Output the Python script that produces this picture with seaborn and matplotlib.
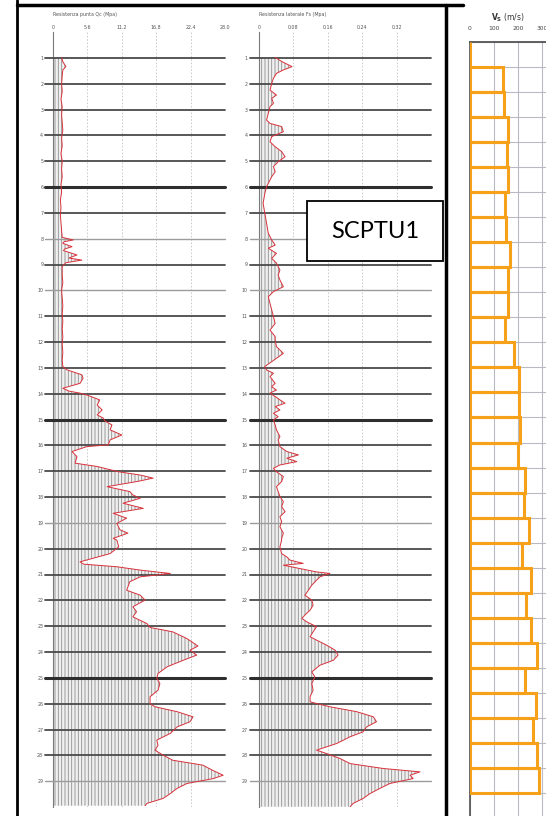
import matplotlib
matplotlib.use("Agg")
import matplotlib.pyplot as plt
from matplotlib.patches import Rectangle
from matplotlib.lines import Line2D
import seaborn as sns

# --- data read off the scanned SCPTU1 log ---
# cone resistance Qc (MPa) vs depth (m)
qc_depth = [0.98, 1.15, 1.34, 1.47, 1.7, 2.0, 2.3, 2.6, 2.9, 3.2, 3.5, 3.8, 4.1, 4.4, 4.7, 5.0,
            5.3, 5.6, 5.9, 6.2, 6.5, 6.8, 7.1, 7.4, 7.7, 7.95, 8.05, 8.12, 8.18, 8.31, 8.4, 8.46,
            8.63, 8.75, 8.83, 8.93, 9.08, 9.4, 9.7, 10.0, 10.3, 10.6, 10.9, 11.2, 11.5, 11.8,
            12.1, 12.4, 12.7, 12.95, 13.08, 13.27, 13.4, 13.6, 13.79, 13.9, 13.98, 14.05, 14.24,
            14.44, 14.63, 14.82, 14.95, 15.05, 15.21, 15.4, 15.6, 15.79, 15.98, 16.05, 16.24,
            16.44, 16.69, 16.82, 17.02, 17.15, 17.27, 17.4, 17.6, 17.79, 17.92, 18.05, 18.24,
            18.44, 18.63, 18.82, 19.02, 19.27, 19.4, 19.6, 19.67, 19.93, 20.19, 20.51, 20.6,
            20.7, 20.83, 20.96, 21.09, 21.28, 21.61, 21.8, 21.99, 22.25, 22.44, 22.64, 22.9,
            23.05, 23.22, 23.48, 23.77, 23.93, 24.12, 24.32, 24.57, 24.83, 25.02, 25.22, 25.48,
            25.73, 25.99, 26.12, 26.31, 26.51, 26.7, 26.9, 27.15, 27.41, 27.61, 27.8, 27.99,
            28.19, 28.38, 28.57, 28.77, 28.9, 29.09, 29.28, 29.48, 29.67, 29.86, 29.95]
qc_vals = [1.4, 1.6, 2.1, 1.6, 1.5, 1.4, 1.5, 1.3, 1.5, 1.4, 1.5, 1.6, 1.4, 1.5, 1.3, 1.5,
           1.4, 1.5, 1.3, 1.4, 1.2, 1.3, 1.2, 1.3, 1.4, 1.5, 3.3, 1.8, 1.6, 3.1, 1.9, 1.7,
           3.9, 2.6, 4.7, 2.1, 1.5, 1.5, 1.6, 1.4, 1.5, 1.6, 1.5, 1.6, 1.5, 1.6,
           1.5, 1.6, 1.5, 1.6, 2.3, 4.7, 4.9, 4.4, 1.6, 2.6, 4.4, 5.5, 7.6,
           7.2, 8.0, 7.2, 8.2, 8.4, 9.6, 9.3, 11.2, 9.3, 9.0, 5.5, 3.1,
           3.9, 3.6, 7.2, 10.6, 14.2, 16.3, 13.7, 8.8, 12.5, 13.0, 14.2, 11.4,
           14.7, 9.8, 12.0, 10.4, 10.9, 12.2, 9.8, 10.4, 10.7, 9.3, 4.4, 5.0,
           10.4, 14.2, 19.1, 14.2, 12.5, 12.0, 14.2, 15.0, 13.0, 13.6, 13.0, 15.3,
           15.8, 19.5, 21.8, 23.6, 22.3, 23.4, 21.2, 18.6, 17.1, 16.9, 17.4, 17.1,
           15.8, 15.8, 16.6, 20.2, 22.8, 22.3, 20.2, 19.1, 16.9, 17.1, 16.6, 17.9,
           19.5, 24.4, 25.9, 27.7, 26.1, 21.8, 20.2, 19.1, 17.9, 15.3, 15.0]

# sleeve friction Fs (MPa) vs depth (m)
fs_depth = [0.98, 1.15, 1.34, 1.47, 1.6, 1.79, 1.99, 2.25, 2.44, 2.57, 2.76, 2.89, 3.15, 3.41,
            3.54, 3.66, 3.86, 4.05, 4.25, 4.44, 4.63, 4.83, 5.02, 5.21, 5.41, 5.6, 5.99, 6.25,
            6.63, 7.02, 7.41, 7.79, 8.05, 8.25, 8.37, 8.57, 8.76, 8.95, 9.21, 9.41, 9.6, 9.86,
            10.05, 10.25, 10.5, 10.76, 11.02, 11.28, 11.54, 11.79, 11.92, 12.18, 12.44, 12.63,
            12.76, 12.95, 13.08, 13.21, 13.34, 13.6, 13.73, 13.86, 13.98, 14.11, 14.24, 14.37,
            14.5, 14.63, 14.76, 14.89, 15.02, 15.21, 15.4, 15.66, 15.79, 16.05, 16.24, 16.37,
            16.5, 16.63, 16.76, 16.89, 17.02, 17.21, 17.4, 17.6, 17.79, 17.98, 18.18, 18.37,
            18.57, 18.76, 18.95, 19.15, 19.4, 19.6, 19.67, 19.93, 20.19, 20.32, 20.44, 20.57,
            20.64, 20.77, 20.9, 20.96, 21.09, 21.22, 21.41, 21.61, 21.8, 21.99, 22.19, 22.38,
            22.57, 22.7, 22.83, 23.02, 23.22, 23.41, 23.54, 23.73, 23.93, 24.12, 24.32, 24.51,
            24.77, 24.96, 25.22, 25.48, 25.73, 25.93, 26.12, 26.31, 26.51, 26.7, 26.9, 27.09,
            27.28, 27.54, 27.8, 27.93, 28.12, 28.32, 28.51, 28.64, 28.77, 28.9, 29.09, 29.28,
            29.48, 29.67, 29.86, 29.99]
fs_vals = [0.038, 0.054, 0.077, 0.057, 0.041, 0.034, 0.030, 0.026, 0.041, 0.030, 0.034, 0.026,
           0.022, 0.018, 0.026, 0.053, 0.057, 0.030, 0.026, 0.038, 0.053, 0.061, 0.045, 0.034,
           0.038, 0.030, 0.018, 0.014, 0.010, 0.014, 0.018, 0.022, 0.030, 0.038, 0.022, 0.041,
           0.030, 0.041, 0.049, 0.045, 0.049, 0.057, 0.034, 0.022, 0.026, 0.030, 0.034, 0.038,
           0.026, 0.038, 0.038, 0.041, 0.057, 0.041, 0.030, 0.014, 0.018, 0.034, 0.026, 0.038,
           0.030, 0.041, 0.026, 0.038, 0.049, 0.061, 0.038, 0.049, 0.034, 0.045, 0.034, 0.038,
           0.041, 0.049, 0.045, 0.049, 0.065, 0.092, 0.065, 0.088, 0.049, 0.034, 0.041, 0.057,
           0.053, 0.041, 0.045, 0.049, 0.057, 0.053, 0.061, 0.049, 0.053, 0.049, 0.057, 0.053,
           0.053, 0.049, 0.053, 0.065, 0.072, 0.103, 0.057, 0.096, 0.134, 0.165, 0.142, 0.134,
           0.123, 0.115, 0.107, 0.123, 0.126, 0.119, 0.107, 0.100, 0.111, 0.134, 0.126, 0.119,
           0.134, 0.157, 0.177, 0.184, 0.173, 0.142, 0.123, 0.130, 0.123, 0.126, 0.119, 0.119,
           0.165, 0.227, 0.266, 0.273, 0.250, 0.242, 0.212, 0.181, 0.134, 0.157, 0.188, 0.212,
           0.289, 0.374, 0.351, 0.358, 0.304, 0.281, 0.258, 0.242, 0.219, 0.212]

# shear wave velocity layers (top depth in m, Vs in m/s), 1 m thick
vs_top = [0, 1, 2, 3, 4, 5, 6, 7, 8, 9, 10, 11, 12, 13, 14, 15, 16, 17, 18, 19, 20, 21, 22,
          23, 24, 25, 26, 27, 28, 29]
vs_vals = [0, 137, 142, 158, 154, 158, 146, 150, 167, 158, 158, 146, 183, 204, 204, 208, 200,
           229, 225, 246, 217, 254, 233, 254, 279, 229, 275, 262, 279, 287]

depth_marks = [1, 2, 3, 4, 5, 6, 7, 8, 9, 10, 11, 12, 13, 14, 15, 16, 17, 18, 19, 20, 21, 22,
               23, 24, 25, 26, 27, 28, 29]
qc_ticks = [0, 5.6, 11.2, 16.8, 22.4, 28.0]
qc_ticklabels = ["0", "5.6", "11.2", "16.8", "22.4", "28.0"]
fs_ticks = [0, 0.08, 0.16, 0.24, 0.32]
fs_ticklabels = ["0", "0.08", "0.16", "0.24", "0.32"]
vs_ticks = [0, 100, 200, 300, 400]
vs_ticklabels = ["0", "100", "200", "300", "400"]

sns.set_theme(style="white")
plt.rcParams["font.family"] = "DejaVu Sans"
plt.rcParams["hatch.linewidth"] = 0.6

W, H = 546, 816
fig = plt.figure(figsize=(W / 100, H / 100), dpi=100)
fig.patch.set_facecolor("white")


def px_box(x0, y0, x1, y1):
    return [x0 / W, 1 - y1 / H, (x1 - x0) / W, (y1 - y0) / H]


heavy = {6, 15, 25}
light = {8, 10, 19, 29}


def cpt_panel(ax, depth, vals, xmax, ticks, ticklabels, title, left_ext, ypad):
    ax.set_facecolor("white")
    ax.fill_betweenx(depth, 0, vals, facecolor="#f0f0f0", edgecolor="#8e8e8e",
                     hatch="|||||", lw=0, zorder=1)
    sns.lineplot(x=vals, y=depth, orient="y", sort=False, estimator=None,
                 color="#d8323c", lw=0.7, ax=ax, zorder=4)
    for d in depth_marks:
        if d in heavy:
            c, w = "#2e2e2e", 2.2
        elif d in light:
            c, w = "#9c9c9c", 1.0
        else:
            c, w = "#4a4a4a", 1.3
        ax.axhline(d, xmin=-left_ext, xmax=1, color=c, lw=w, clip_on=False, zorder=3)
    ax.set_xlim(0, xmax)
    ax.set_ylim(30, 0)
    ax.set_xticks(ticks)
    ax.set_xticklabels(ticklabels)
    ax.set_yticks(depth_marks)
    ax.set_yticklabels([str(d) for d in depth_marks])
    ax.xaxis.tick_top()
    ax.tick_params(axis="x", length=0, pad=1.5, labelsize=3.4, labelcolor="#555555")
    ax.tick_params(axis="y", length=0, pad=ypad, labelsize=3.4, labelcolor="#555555")
    ax.grid(axis="x", ls=(0, (2, 2)), color="#c4c4c4", lw=0.6)
    ax.grid(axis="y", visible=False)
    for s in ["top", "right", "bottom"]:
        ax.spines[s].set_visible(False)
    ax.spines["left"].set_color("#7a7a7a")
    ax.spines["left"].set_linewidth(0.8)
    ax.set_xlabel("")
    ax.set_ylabel("")
    ax.annotate(title, xy=(0, 1), xycoords="axes fraction", xytext=(0, 18),
                textcoords="offset pixels", fontsize=3.4, color="#555555", va="center")


ax_qc = fig.add_axes(px_box(53, 32, 225, 807))
cpt_panel(ax_qc, qc_depth, qc_vals, 28, qc_ticks, qc_ticklabels,
          "Resistenza punta Qc (Mpa)", 8 / 172, 7)

ax_fs = fig.add_axes(px_box(258.8, 32, 431.2, 807))
cpt_panel(ax_fs, fs_depth, fs_vals, 0.40, fs_ticks, fs_ticklabels,
          "Resistenza laterale Fs (Mpa)", 9 / 172, 8)

# Vs step profile
ax_vs = fig.add_axes(px_box(470, 42, 566, 818))
ax_vs.set_facecolor("white")
ax_vs.barh(vs_top, vs_vals, height=1, left=0, align="edge", facecolor="none",
           edgecolor="#f7a11a", lw=2.2, zorder=3)
ax_vs.set_xlim(0, 400)
ax_vs.set_ylim(31, 0)
ax_vs.set_xticks(vs_ticks)
ax_vs.set_xticklabels(vs_ticklabels)
ax_vs.set_yticks(list(range(0, 32)))
ax_vs.set_yticklabels([])
ax_vs.xaxis.tick_top()
ax_vs.tick_params(axis="x", length=0, pad=8, labelsize=4.3, labelcolor="#444444")
ax_vs.tick_params(axis="y", length=0)
ax_vs.grid(True, color="#b9bac4", lw=0.8)
ax_vs.set_axisbelow(True)
for s in ["right", "bottom"]:
    ax_vs.spines[s].set_visible(False)
ax_vs.spines["top"].set_color("#555555")
ax_vs.spines["top"].set_linewidth(1.3)
ax_vs.spines["left"].set_color("#555555")
fig.text(508 / W, 1 - 18 / H, r"$\mathbf{V_S}$ (m/s)", fontsize=5.5, color="#333333",
         ha="center", va="center")

# table frame of the scanned page
fig.add_artist(Line2D([17 / W, 17 / W], [0, 1], transform=fig.transFigure, color="black", lw=2))
fig.add_artist(Line2D([17 / W, 463 / W], [1 - 5 / H, 1 - 5 / H], transform=fig.transFigure,
                      color="black", lw=2.5))
fig.add_artist(Line2D([446 / W, 446 / W], [0, 1 - 5 / H], transform=fig.transFigure,
                      color="black", lw=2.5))

# label box
fig.add_artist(Rectangle((307 / W, 1 - 261 / H), 136 / W, 60 / H, transform=fig.transFigure,
                         facecolor="white", edgecolor="black", lw=1.3, zorder=10))
fig.text(375 / W, 1 - 231 / H, "SCPTU1", fontsize=17, family="Lato", color="black",
         ha="center", va="center", zorder=11)

fig.savefig("out.png", dpi=100)
